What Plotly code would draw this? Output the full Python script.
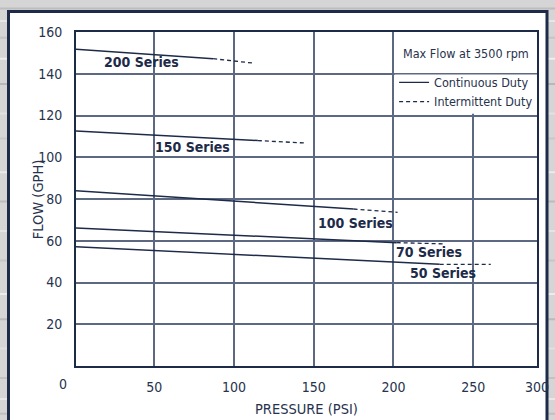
import plotly.graph_objects as go

# ---- data ----
series_names = ["200 Series", "150 Series", "100 Series", "70 Series", "50 Series"]
# continuous duty (solid) segments: pressure (PSI) and flow (GPH)
cont_pressure = [[0, 87], [0, 115], [0, 175], [0, 202], [0, 229]]
cont_flow = [[151.8, 147.2], [112.6, 108.0], [84.0, 75.2], [66.2, 59.1], [57.2, 48.7]]
# intermittent duty (dashed) segments
int_pressure = [[87, 112], [115, 145], [175, 202.6], [202, 232], [229, 261]]
int_flow = [[147.2, 145.1], [108.0, 106.8], [75.2, 73.6], [59.1, 58.5], [48.7, 48.7]]
# where each series name is written
label_pressure = [42, 74, 176, 222, 231]
label_flow = [145.4, 105.0, 68.7, 54.4, 44.5]

x_tickvals = [50, 100, 150, 200, 250, 290]
x_ticktext = ["50", "100", "150", "200", "250", "300"]
y_tickvals = [20, 40, 60, 80, 100, 120, 140, 160]
y_ticktext = ["20", "40", "60", "80", "100", "120", "140", "160"]

NAVY = "#1d2a48"
GRID = "#5d6882"
TEXT = "#27324d"
FONT = "DejaVu Sans Condensed, DejaVu Sans, sans-serif"

fig = go.Figure()

for i, name in enumerate(series_names):
    fig.add_trace(go.Scatter(x=cont_pressure[i], y=cont_flow[i], mode="lines",
                             line=dict(color=NAVY, width=1.5), showlegend=False,
                             hoverinfo="skip"))
    fig.add_trace(go.Scatter(x=int_pressure[i], y=int_flow[i], mode="lines",
                             line=dict(color=NAVY, width=1.3, dash="4px,3px"),
                             showlegend=False, hoverinfo="skip"))

# legend entries
fig.add_trace(go.Scatter(x=[None], y=[None], mode="lines", name="Continuous Duty",
                         line=dict(color=NAVY, width=1.3)))
fig.add_trace(go.Scatter(x=[None], y=[None], mode="lines", name="Intermittent Duty",
                         line=dict(color=NAVY, width=1.3, dash="4px,3px")))

annotations = []
for i, name in enumerate(series_names):
    annotations.append(dict(x=label_pressure[i], y=label_flow[i], text="<b>%s</b>" % name,
                            showarrow=False, xanchor="center", yanchor="middle",
                            font=dict(family=FONT, size=14, color=NAVY)))

annotations.append(dict(x=245.6, y=149.6, text="Max Flow at 3500 rpm", showarrow=False,
                        xanchor="center", yanchor="middle",
                        font=dict(family=FONT, size=12.5, color=TEXT)))
annotations.append(dict(xref="paper", yref="paper", x=-0.028, y=-0.055, text="0",
                        showarrow=False, xanchor="center", yanchor="middle",
                        font=dict(family=FONT, size=14, color=TEXT)))
annotations.append(dict(xref="paper", yref="paper", x=0.5, y=-0.13, text="PRESSURE (PSI)",
                        showarrow=False, xanchor="center", yanchor="middle",
                        font=dict(family=FONT, size=14.5, color=TEXT)))
annotations.append(dict(xref="paper", yref="paper", x=-0.082, y=0.5, text="FLOW (GPH)",
                        showarrow=False, xanchor="center", yanchor="middle", textangle=-90,
                        font=dict(family=FONT, size=14.5, color=TEXT)))

# brushed-metal streaks for the outer background
streak_y = [0.02, 0.05, 0.09, 0.14, 0.2, 0.27, 0.33, 0.41, 0.48, 0.55, 0.62, 0.7,
            0.76, 0.83, 0.9, 0.95, 0.985]
streak_c = ["#bdbdbd", "#e6e6e6", "#c4c4c4", "#ededed", "#b8b8b8", "#e2e2e2",
            "#c8c8c8", "#eaeaea", "#bcbcbc", "#e4e4e4", "#c6c6c6", "#ececec",
            "#bababa", "#e0e0e0", "#c2c2c2", "#e8e8e8", "#c0c0c0"]

# paper-coordinate helpers (plot area: 461 x 334 px)
def px_to_xpaper(px):
    return (px - 76) / 461.0

def py_to_ypaper(py):
    return (366 - py) / 334.0

shapes = []
for yy, cc in zip(streak_y, streak_c):
    yp = py_to_ypaper(yy * 420)
    shapes.append(dict(type="line", xref="paper", yref="paper",
                       x0=px_to_xpaper(0), x1=px_to_xpaper(555), y0=yp, y1=yp,
                       line=dict(color=cc, width=2), layer="below"))

shapes += [
    # white panel with navy frame
    dict(type="rect", xref="paper", yref="paper",
         x0=px_to_xpaper(8.5), x1=px_to_xpaper(547), y0=py_to_ypaper(430), y1=py_to_ypaper(11.5),
         fillcolor="white", line=dict(color=NAVY, width=3), layer="below"),
    # blank legend cell (covers grid)
    dict(type="rect", xref="x", yref="y", x0=200.8, x1=290, y0=120.8, y1=160,
         fillcolor="white", line=dict(width=0), layer="between"),
    dict(type="line", xref="x", yref="y", x0=200, x1=290, y0=140, y1=140,
         line=dict(color=GRID, width=1.5), layer="between"),
]

fig.update_layout(
    width=555, height=420,
    margin=dict(l=76, r=18, t=32, b=54, autoexpand=False),
    paper_bgcolor="#d5d5d5",
    plot_bgcolor="white",
    font=dict(family=FONT, size=14, color=TEXT),
    showlegend=True,
    legend=dict(x=0.69, y=0.893, xanchor="left", yanchor="top",
                bgcolor="rgba(0,0,0,0)", borderwidth=0,
                font=dict(family=FONT, size=12.5, color=TEXT),
                tracegroupgap=0, itemwidth=30),
    annotations=annotations,
    shapes=shapes,
)

fig.update_xaxes(range=[1, 290], tickvals=x_tickvals, ticktext=x_ticktext,
                 showgrid=True, gridcolor=GRID, gridwidth=1.5,
                 showline=True, linecolor=NAVY, linewidth=2, mirror=True,
                 zeroline=False, ticks="", ticklabelstandoff=7, automargin=False,
                 tickfont=dict(family=FONT, size=14, color=TEXT))
fig.update_yaxes(range=[0, 160], tickvals=y_tickvals, ticktext=y_ticktext,
                 showgrid=True, gridcolor=GRID, gridwidth=1.5,
                 showline=True, linecolor=NAVY, linewidth=2, mirror=True,
                 zeroline=False, ticks="", ticklabelstandoff=9, automargin=False,
                 tickfont=dict(family=FONT, size=14, color=TEXT))

fig.write_html("out.html", config={"displayModeBar": False},
               post_script="document.body.style.margin='0';document.body.style.padding='0';")
